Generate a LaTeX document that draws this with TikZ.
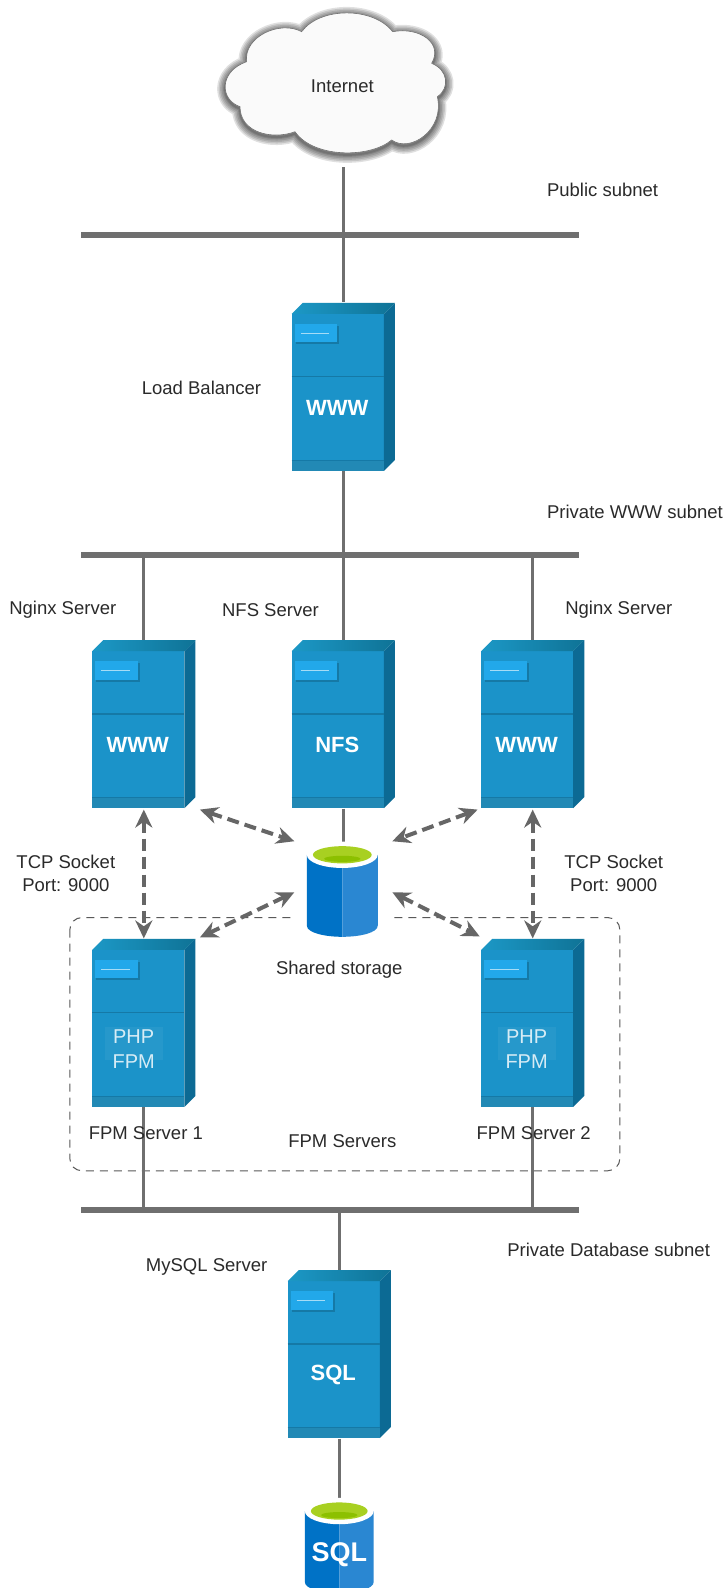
\documentclass[tikz,border=0pt]{standalone}
\usepackage{fontspec}
\setmainfont{Liberation Sans}
\usetikzlibrary{arrows.meta,shadings}
\definecolor{srvfront}{HTML}{1B93C9}
\definecolor{srvside}{HTML}{0C6A94}
\definecolor{srvtopa}{HTML}{1C98C6}
\definecolor{srvtopb}{HTML}{0F7396}
\definecolor{srvband}{HTML}{2289B5}
\definecolor{srvline}{HTML}{1579A6}
\definecolor{srvlabel}{HTML}{22A8EA}
\definecolor{cylleft}{HTML}{0072C6}
\definecolor{cylright}{HTML}{2A87D2}
\definecolor{cylgreen}{HTML}{A8D021}
\definecolor{cyldark}{HTML}{8CC000}
\definecolor{wire}{HTML}{6F6F6F}
\definecolor{txt}{HTML}{2A2A2A}
\tikzset{
  bar/.style={fill=wire,inner sep=0pt,minimum width=249pt,minimum height=3pt,draw=none},
  wireline/.style={draw=wire,line width=1.5pt},
  link/.style={draw=wire!92!black,line width=2pt,dash pattern=on 6pt off 3pt,{Stealth[length=9pt,width=8.5pt]}-{Stealth[length=9pt,width=8.5pt]}},
  lbl/.style={font=\fontsize{9.25}{11.6}\selectfont,text=txt,align=center,inner sep=0pt},
  srvbox/.style={inner sep=0pt,minimum width=51.65pt,minimum height=84.06pt},
  srvtxt/.style={font=\fontsize{11}{13}\selectfont\bfseries,text=white,inner sep=0pt},
  fpmtxt/.style={font=\fontsize{10}{12.4}\selectfont,text=white,text opacity=.82,align=center,inner sep=0pt},
  fpmpanel/.style={fill=white,fill opacity=.05},
  cloudpath/.style={insert path={
    (120,320) .. controls (60,300) and (55,215) .. (140,185)
    .. controls (130,110) and (240,60) .. (305,95)
    .. controls (360,20) and (520,20) .. (578,95)
    .. controls (660,80) and (730,130) .. (695,190)
    .. controls (745,210) and (750,265) .. (712,290)
    .. controls (735,390) and (630,460) .. (575,420)
    .. controls (510,475) and (340,475) .. (285,395)
    .. controls (220,420) and (120,400) .. (120,320) -- cycle}}
}
% name, x, y
\newcommand{\srv}[3]{%
  \begin{scope}[shift={(#2,#3)}]
    \fill[srvfront] (0,11) rectangle (91,166);
    \fill[srvside] (91,11) -- (102,0) -- (102,155) -- (91,166) -- cycle;
    \shade[left color=srvtopa,right color=srvtopb] (0,11) -- (11,0) -- (102,0) -- (91,11) -- cycle;
    \fill[srvband] (0,156) rectangle (91,166);
    \draw[srvline,line width=.5pt] (0,155.5) -- (91,155.5);
    \draw[srvline,line width=.7pt] (0,73) -- (91,73);
    \fill[srvline] (4,23) rectangle (47,41);
    \fill[srvlabel] (3,21) rectangle (45,39);
    \draw[white,opacity=.6,line width=.4pt] (9,30) -- (37,30);
  \end{scope}}
% x, y, w, h
\newcommand{\cyl}[4]{%
  \begin{scope}[shift={(#1,#2)}]
    \fill[cylleft] (0,8) -- (0,{#4-11}) .. controls (0,{#4-4}) and ({#3/4},#4) .. ({#3/2},#4) -- ({#3/2},8) -- cycle;
    \fill[cylright] (#3,8) -- (#3,{#4-11}) .. controls (#3,{#4-4}) and ({#3*3/4},#4) .. ({#3/2},#4) -- ({#3/2},8) -- cycle;
    \fill[white] ({#3/2},8) ellipse [x radius={#3/2},y radius=13];
    \fill[cylgreen] ({#3/2},8) ellipse [x radius={#3/2-6},y radius=8.5];
    \fill[cyldark] ({#3/2},12) ellipse [x radius=18,y radius=3];
  \end{scope}}
\begin{document}
\begin{tikzpicture}[x=0.5064pt,y=-0.5064pt]
\useasboundingbox (0,0) rectangle (717,1568);
\fill[white] (0,0) rectangle (717,1568);

% cloud
\begin{scope}[xshift=100pt,x=0.16667pt,y=-0.16667pt]
  \begin{scope}[yshift=-1pt]
  \foreach \w in {16,13,10,7,4,2}{
    \draw[black,opacity=.12,line width=\w*0.5pt,line join=round,cloudpath];
  }
  \end{scope}
  \fill[white!98!black,cloudpath];
  \draw[black!55,line width=.3pt,cloudpath];
\end{scope}
\node[lbl] (inet) at (338,85) {Internet};
\coordinate (inetb) at (339,165);

% subnet bars
\node[bar] (pubnet) at (326,232) {};
\node[bar] (wwwnet) at (326,548) {};
\node[bar] (dbnet) at (326,1195) {};

% FPM group
\draw[black!65,line width=.5pt,dash pattern=on 4pt off 3pt,rounded corners=6pt] (69,906) rectangle (612,1156);

% servers
\node[srvbox] (lb) at (339,382) {};
\node[srvbox] (n1) at (142,715) {};
\node[srvbox] (nfs) at (339,715) {};
\node[srvbox] (n3) at (526,715) {};
\node[srvbox] (f1) at (142,1010) {};
\node[srvbox] (f2) at (526,1010) {};
\node[srvbox] (sql) at (335,1337) {};

% storage
\node[fill=white,inner sep=0pt,minimum width=48.6pt,minimum height=50.6pt] (shared) at (339,881) {};
\node[inner sep=0pt,minimum width=34.4pt,minimum height=42.5pt] (db) at (335,1526) {};

% wires
\draw[wireline] (inetb) -- (lb.north);
\draw[wireline] (lb.south) -- (lb.south |- wwwnet);
\draw[wireline] (n1.north |- wwwnet) -- (n1.north);
\draw[wireline] (nfs.north |- wwwnet) -- (nfs.north);
\draw[wireline] (n3.north |- wwwnet) -- (n3.north);
\draw[wireline] (nfs.south) -- ([yshift=-2.6pt]shared.north);
\draw[wireline] (f1.south) -- (f1.south |- dbnet);
\draw[wireline] (f2.south) -- (f2.south |- dbnet);
\draw[wireline] (sql.north |- dbnet) -- (sql.north);
\draw[wireline] (sql.south) -- (db.north);

\srv{lbd}{288}{299}
\srv{n1d}{91}{632}
\srv{nfsd}{288}{632}
\srv{n3d}{475}{632}
\srv{f1d}{91}{927}
\srv{f2d}{475}{927}
\srv{sqld}{284}{1254}

\node[srvtxt] (lbt) at (333,403) {WWW};
\node[srvtxt] (n1t) at (136,736) {WWW};
\node[srvtxt] (nfst) at (333,736) {NFS};
\node[srvtxt] (n3t) at (520,736) {WWW};
\node[srvtxt] (sqlt) at (329,1358) {SQL};
\fill[fpmpanel] (104,1014) rectangle (161,1047);
\fill[fpmpanel] (492,1014) rectangle (549,1047);
\node[fpmtxt] (f1t) at (132,1036) {PHP\\FPM};
\node[fpmtxt] (f2t) at (520,1036) {PHP\\FPM};

\cyl{303}{836}{70}{89}
\cyl{301}{1484}{68}{89}
\node[font=\fontsize{13.5}{15}\selectfont\bfseries,text=white,inner sep=0pt] (dbt) at (335,1535) {SQL};

% dashed links
\draw[link] ([shift={(4,1)}]n1.south east) -- (shared.north west);
\draw[link] ([shift={(-3,1)}]n3.south west) -- (shared.north east);
\draw[link] (shared.west) -- ([shift={(4,-1)}]f1.north east);
\draw[link] (shared.east) -- ([shift={(-1,-2)}]f2.north west);
\draw[link] ([yshift=-.5pt]n1.south) -- (f1.north);
\draw[link] ([yshift=-.5pt]n3.south) -- (f2.north);

% labels
\node[lbl] (l1) at (595,187) {Public subnet};
\node[lbl] (l2) at (199,383) {Load Balancer};
\node[lbl] (l3) at (627,505) {Private WWW subnet};
\node[lbl] (l4) at (62,602) {Nginx Server};
\node[lbl] (l5) at (267,602) {NFS Server};
\node[lbl] (l6) at (611,602) {Nginx Server};
\node[lbl] (l7) at (65,862) {TCP Socket\\Port: 9000};
\node[lbl] (l8) at (606,862) {TCP Socket\\Port: 9000};
\node[lbl] (l9) at (335,957) {Shared storage};
\node[lbl] (l10) at (144,1119) {FPM Server 1};
\node[lbl] (l11) at (338,1127) {FPM Servers};
\node[lbl] (l12) at (527,1119) {FPM Server 2};
\node[lbl] (l13) at (601,1234) {Private Database subnet};
\node[lbl] (l14) at (204,1251) {MySQL Server};
\end{tikzpicture}
\end{document}
